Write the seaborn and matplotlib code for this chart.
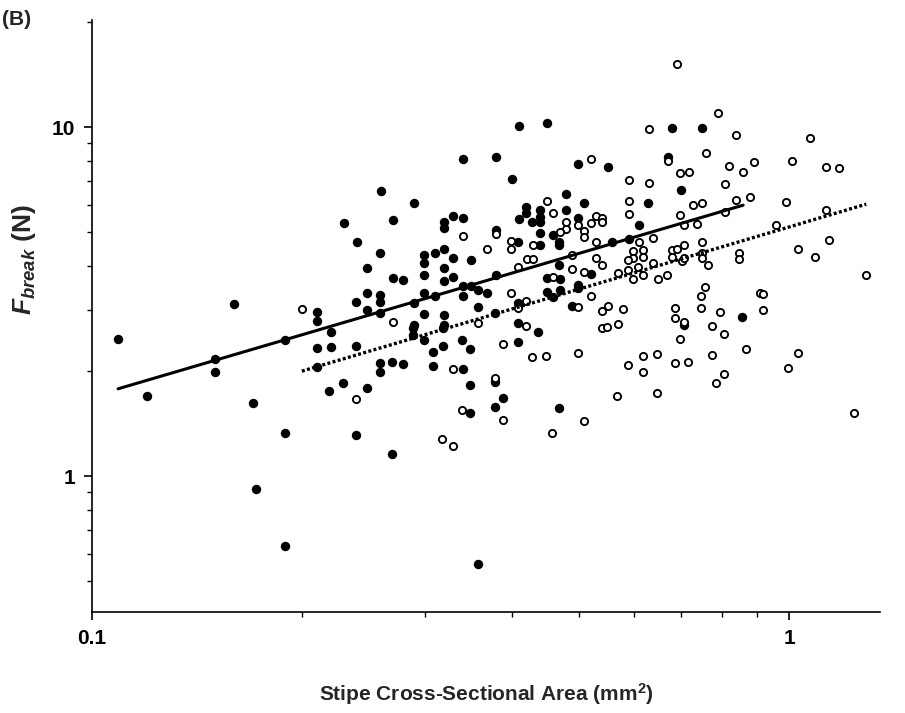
import matplotlib
matplotlib.use("Agg")
import matplotlib.pyplot as plt
import pandas as pd
import seaborn as sns

# Stipe cross-sectional area (mm^2) and breaking force (N), filled-symbol group
area_filled = [
    0.109, 0.120, 0.150, 0.150, 0.160, 0.170, 0.189, 0.189, 0.172, 0.189, 0.358,
    0.210, 0.210, 0.210, 0.210, 0.220, 0.220, 0.219, 0.229, 0.239, 0.239,
    0.230, 0.240, 0.239, 0.248, 0.248, 0.248, 0.248,
    0.260, 0.290, 0.270, 0.320, 0.320, 0.330, 0.340, 0.380,
    0.420, 0.420, 0.410, 0.428, 0.409,
    0.259, 0.299, 0.299, 0.310, 0.320, 0.330, 0.350, 0.320,
    0.270, 0.279, 0.299, 0.320, 0.330, 0.380, 0.340, 0.350,
    0.259, 0.259, 0.299, 0.310, 0.290, 0.340, 0.358, 0.369,
    0.259, 0.299, 0.290, 0.320, 0.320, 0.358, 0.379, 0.409, 0.409,
    0.289, 0.289, 0.299, 0.319, 0.436, 0.339, 0.349, 0.319, 0.308, 0.409,
    0.259, 0.259, 0.269, 0.279, 0.308, 0.340, 0.349, 0.379, 0.389, 0.379, 0.349, 0.269,
    0.410, 0.340, 0.380, 0.401, 0.450, 0.680, 0.750, 0.671, 0.498, 0.550, 0.700, 0.479, 0.508,
    0.439, 0.439, 0.439, 0.479, 0.498, 0.439, 0.459, 0.468, 0.468, 0.439,
    0.557, 0.589, 0.609, 0.628, 0.520, 0.468, 0.450, 0.450, 0.469, 0.469, 0.459,
    0.498, 0.498, 0.488, 0.856, 0.707, 0.468,
]
force_filled = [
    2.47, 1.70, 2.16, 1.99, 3.11, 1.62, 2.45, 1.33, 0.92, 0.63, 0.56,
    2.95, 2.78, 2.33, 2.05, 2.59, 2.34, 1.75, 1.85, 2.36, 1.31,
    5.31, 4.68, 3.15, 3.94, 3.35, 2.99, 1.79,
    6.55, 6.06, 5.41, 5.34, 5.14, 5.56, 5.49, 5.07,
    5.90, 5.67, 5.45, 5.34, 4.68,
    4.36, 4.30, 4.08, 4.36, 4.47, 4.21, 4.16, 3.94,
    3.69, 3.64, 3.77, 3.62, 3.72, 3.77, 3.50, 3.50,
    3.30, 3.15, 3.35, 3.28, 3.13, 3.28, 3.41, 3.35,
    2.93, 2.91, 2.71, 2.89, 2.71, 3.05, 2.93, 3.13, 2.75,
    2.66, 2.54, 2.45, 2.66, 2.59, 2.45, 2.31, 2.36, 2.27, 2.42,
    2.11, 1.99, 2.12, 2.09, 2.07, 2.03, 1.82, 1.86, 1.68, 1.58, 1.52, 1.16,
    10.1, 8.09, 8.20, 7.10, 10.3, 9.93, 9.93, 8.20, 7.83, 7.68, 6.60, 6.43, 6.06,
    5.78, 5.52, 5.34, 5.78, 5.49, 4.97, 4.90, 4.68, 4.59, 4.59,
    4.68, 4.78, 5.24, 6.06, 3.79, 4.02, 3.69, 3.37, 3.67, 3.41, 3.26,
    3.53, 3.46, 3.07, 2.86, 2.71, 1.57,
]

# Open-symbol group
area_open = [
    0.200, 0.239, 0.340, 0.380, 0.399, 0.399, 0.429, 0.421, 0.429, 0.409, 0.369,
    0.270, 0.358, 0.399, 0.420, 0.409, 0.420, 0.389, 0.428, 0.329, 0.379, 0.339,
    0.389, 0.318, 0.329,
    0.691, 0.630, 0.760, 0.671, 0.520, 0.589, 0.630, 0.698, 0.719,
    0.791, 0.840, 1.07, 1.01, 1.13, 1.18, 0.891, 0.820, 0.859, 0.809, 0.879,
    0.450, 0.459, 0.479, 0.498, 0.520, 0.529, 0.539, 0.539, 0.479, 0.469, 0.508,
    0.508, 0.529,
    0.589, 0.589, 0.638, 0.609, 0.698, 0.707, 0.738, 0.728, 0.750,
    0.597, 0.617, 0.597, 0.617, 0.588, 0.488, 0.529, 0.539, 0.488, 0.508, 0.607,
    0.588, 0.617, 0.597, 0.569, 0.638, 0.668, 0.649,
    0.680, 0.691, 0.707, 0.680, 0.702, 0.707, 0.750, 0.750, 0.750, 0.765,
    0.459, 0.520, 0.498, 0.539, 0.550, 0.578, 0.758, 0.748, 0.748, 0.686, 0.686,
    0.707, 0.539, 0.548, 0.569,
    0.840, 0.990, 0.809, 1.13, 0.958, 1.14, 1.03, 1.09, 0.848, 0.848, 1.29,
    0.909, 0.918, 0.796, 0.918, 0.775,
    0.698, 0.448, 0.498, 0.617, 0.647, 0.588, 0.617, 0.686, 0.716, 0.567, 0.647,
    0.508, 0.457,
    0.807, 0.775, 0.867, 1.03, 0.997, 0.807, 0.786, 1.24,
]
force_open = [
    3.01, 1.66, 4.87, 4.93, 4.71, 4.47, 4.59, 4.19, 4.19, 3.97, 4.47,
    2.76, 2.75, 3.35, 3.17, 3.03, 2.69, 2.39, 2.19, 2.03, 1.91, 1.55,
    1.45, 1.28, 1.22,
    15.2, 9.87, 8.42, 7.99, 8.09, 7.05, 6.91, 7.38, 7.43,
    11.0, 9.49, 9.30, 7.99, 7.68, 7.63, 7.94, 7.73, 7.43, 6.87, 6.30,
    6.14, 5.67, 5.34, 5.24, 5.31, 5.56, 5.49, 5.34, 5.10, 5.00, 5.04,
    4.84, 4.68,
    6.14, 5.63, 4.81, 4.68, 5.60, 5.24, 5.27, 5.98, 6.06,
    4.41, 4.44, 4.21, 4.24, 4.16, 4.30, 4.21, 4.02, 3.92, 3.84, 3.97,
    3.89, 3.77, 3.67, 3.82, 4.08, 3.77, 3.67,
    4.44, 4.47, 4.59, 4.24, 4.13, 4.21, 4.68, 4.36, 4.21, 4.02,
    3.72, 3.28, 3.05, 2.97, 3.07, 3.01, 3.48, 3.28, 3.03, 3.03, 2.84,
    2.76, 2.66, 2.67, 2.73,
    6.18, 6.10, 5.71, 5.78, 5.24, 4.75, 4.47, 4.24, 4.36, 4.19, 3.77,
    3.35, 3.32, 2.95, 2.99, 2.69,
    2.47, 2.21, 2.25, 2.21, 2.24, 2.08, 1.99, 2.11, 2.12, 1.70, 1.73,
    1.44, 1.33,
    2.55, 2.22, 2.31, 2.25, 2.04, 1.96, 1.85, 1.52,
]

# Power-law fits (straight lines on log-log axes)
fit_filled_area = [0.109, 0.859]
fit_filled_force = [1.78, 5.98]
fit_open_area = [0.200, 1.29]
fit_open_force = [2.00, 6.02]

x_ticks = [0.1, 1]
x_tick_labels = ["0.1", "1"]
y_ticks = [1, 10]
y_tick_labels = ["1", "10"]

sns.set_style("ticks")
plt.rcParams["font.family"] = ["Liberation Sans", "DejaVu Sans"]
plt.rcParams["font.weight"] = "bold"
plt.rcParams["mathtext.fontset"] = "custom"
plt.rcParams["mathtext.it"] = "Liberation Sans:bold:italic"
plt.rcParams["mathtext.rm"] = "Liberation Sans:bold"
plt.rcParams["mathtext.bf"] = "Liberation Sans:bold"

filled = pd.DataFrame({"area": area_filled, "force": force_filled})
opened = pd.DataFrame({"area": area_open, "force": force_open})
fit_f = pd.DataFrame({"area": fit_filled_area, "force": fit_filled_force})
fit_o = pd.DataFrame({"area": fit_open_area, "force": fit_open_force})

fig = plt.figure(figsize=(9.05, 7.13), dpi=100)
ax = fig.add_axes([92 / 905, 1 - 612 / 713, 788 / 905, 592 / 713])
ax.set_xscale("log")
ax.set_yscale("log")

sns.scatterplot(data=filled, x="area", y="force", ax=ax, color="black",
                s=46, linewidth=0, zorder=2, legend=False)
sns.scatterplot(data=opened, x="area", y="force", ax=ax, facecolor="white",
                edgecolor="black", s=27, linewidth=1.35, zorder=3, legend=False)
sns.lineplot(data=fit_f, x="area", y="force", ax=ax, color="black",
             linewidth=2.2, zorder=4, legend=False)
sns.lineplot(data=fit_o, x="area", y="force", ax=ax, color="black",
             linewidth=2.4, linestyle=(0, (0.9, 0.7)), zorder=4, legend=False)
ax.lines[-1].set_dash_capstyle("butt")

ax.set_xlim(0.1, 1.35)
ax.set_ylim(0.408, 20.3)

ax.set_xticks(x_ticks)
ax.set_xticklabels(x_tick_labels)
ax.set_yticks(y_ticks)
ax.set_yticklabels(y_tick_labels)
ax.tick_params(axis="both", which="major", direction="out", length=6, width=1.2,
               labelsize=15, pad=6, color="black", labelcolor="black")
ax.tick_params(axis="both", which="minor", direction="out", length=3.5, width=1.0,
               color="black")
for lab in ax.get_xticklabels() + ax.get_yticklabels():
    lab.set_fontweight("bold")

sns.despine(ax=ax)
for side in ("left", "bottom"):
    ax.spines[side].set_linewidth(1.2)
    ax.spines[side].set_color("black")

ax.set_xlabel("Stipe Cross-Sectional Area (mm$^{2}$)", fontsize=15,
              fontweight="bold", labelpad=24)
ax.set_ylabel("$F_{break}$ (N)", fontsize=19, fontweight="bold")
ax.yaxis.set_label_coords(-0.068, 0.595)

fig.text(0.002, 1 - 10 / 713, "(B)", fontsize=15, fontweight="bold",
         ha="left", va="top")

fig.savefig("out.png", dpi=100, facecolor="white")
